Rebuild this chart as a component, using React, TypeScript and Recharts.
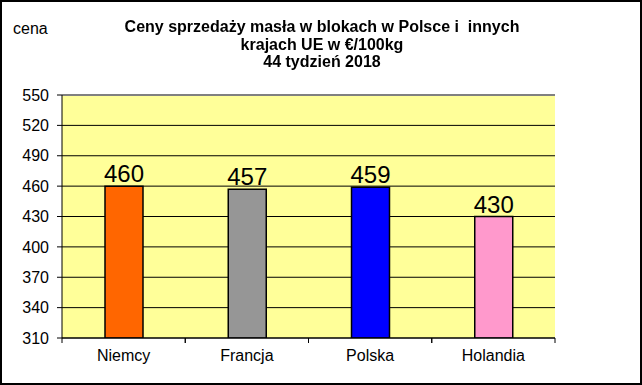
import React from 'react';
import { BarChart, Bar, XAxis, YAxis, CartesianGrid, Cell, LabelList, ReferenceLine } from 'recharts';

const categories = ['Niemcy', 'Francja', 'Polska', 'Holandia'];
const prices = [460, 457, 459, 430];
const barColors = ['#FF6600', '#969696', '#0000FF', '#FF99CC'];
const yTicks = [310, 340, 370, 400, 430, 460, 490, 520, 550];
const titleLines = ['Ceny sprzedaży masła w blokach w Polsce i  innych', 'krajach UE w €/100kg', '44 tydzień 2018'];
const yLabel = 'cena';

const data = categories.map((c, i) => ({ name: c, value: prices[i] }));

const FONT = 'Arial, "Liberation Sans", sans-serif';

const CatTick = (props: any) => {
  const { x, y, payload } = props;
  const off = payload && typeof payload.offset === 'number' ? payload.offset : 0;
  const axisY = y - 12;
  return (
    <g>
      <line x1={x - off} x2={x - off} y1={axisY} y2={axisY + 5} stroke="#000" />
      <line x1={x + off} x2={x + off} y1={axisY} y2={axisY + 5} stroke="#000" />
      <text x={x} y={y} dy="0.71em" textAnchor="middle" fontSize={16} fontFamily={FONT} fill="#000">
        {payload.value}
      </text>
    </g>
  );
};

export default function App() {
  return (
    <div style={{ position: 'fixed', left: 0, top: 0, width: 642, height: 385, background: '#fff' }}>
      <BarChart
        width={642}
        height={385}
        data={data}
        margin={{ top: 95, right: 87, bottom: 17, left: 0 }}
        barSize={38}
      >
        <CartesianGrid vertical={false} stroke="#000" fill="#FFFF99" strokeWidth={1} />
        <XAxis
          dataKey="name"
          height={30}
          tickSize={0}
          tickMargin={12}
          axisLine={{ stroke: '#000' }}
          tickLine={false}
          tick={<CatTick />}
          interval={0}
        />
        <YAxis
          width={62}
          domain={[310, 550]}
          ticks={yTicks}
          type="number"
          allowDataOverflow
          axisLine={{ stroke: '#000' }}
          tickLine={{ stroke: '#000' }}
          tickSize={5}
          tickMargin={8}
          tick={{ fontSize: 16, fontFamily: FONT, fill: '#000' }}
          interval={0}
        />
        <YAxis
          yAxisId="right"
          orientation="right"
          width={0}
          domain={[310, 550]}
          type="number"
          tick={false}
          tickLine={false}
          axisLine={{ stroke: '#808080', strokeWidth: 2 }}
        />
        <ReferenceLine y={550} stroke="#808080" strokeWidth={2} />
        <Bar dataKey="value" isAnimationActive={false} stroke="#000" strokeWidth={1.5}>
          {data.map((d, i) => (
            <Cell key={d.name} fill={barColors[i]} />
          ))}
          <LabelList dataKey="value" position="top" offset={4} style={{ fontSize: 24, fontFamily: FONT, fill: '#000' }} />
        </Bar>
      </BarChart>
      <div style={{ position: 'absolute', left: 13, top: 20, fontSize: 16, fontFamily: FONT, color: '#000' }}>{yLabel}</div>
      <div style={{ position: 'absolute', left: 0, top: 18, width: 644, textAlign: 'center', fontSize: 16, fontWeight: 'bold', fontFamily: FONT, lineHeight: '17.5px', color: '#000' }}>
        {titleLines.map((t) => (
          <div key={t} style={{ whiteSpace: 'pre' }}>{t}</div>
        ))}
      </div>
      <div style={{ position: 'absolute', left: 0, top: 0, width: 642, height: 385, boxSizing: 'border-box', border: '2px solid #000', pointerEvents: 'none' }} />
    </div>
  );
}
